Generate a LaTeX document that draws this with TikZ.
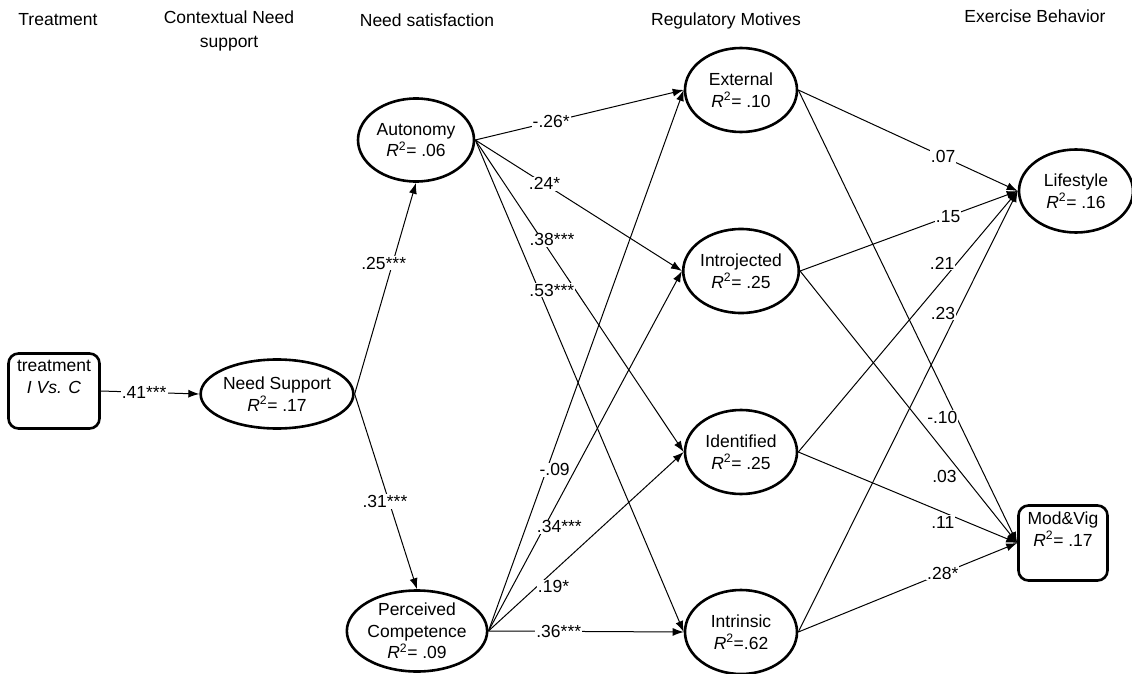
\documentclass[tikz,border=0pt]{standalone}
\usepackage{fontspec}
\setmainfont{Liberation Sans}
\usetikzlibrary{shapes.geometric,arrows.meta}
\begin{document}
\begin{tikzpicture}[x=1pt,y=-1pt,
  every node/.style={font=\fontsize{17.5}{21.5}\selectfont},
  lv/.style={draw, line width=2.6pt, ellipse, inner sep=0pt, align=center},
  obs/.style={draw, line width=2.6pt, rounded corners=10pt, inner sep=0pt, align=center},
  arr/.style={line width=1pt, -{Latex[length=11pt,width=8pt]}},
  coef/.style={fill=white, inner sep=1pt},
  hdr/.style={align=center}]
\useasboundingbox (0,0) rectangle (1132,674);
% headers
\node[hdr] (h1) at (58,20) {Treatment};
\node[hdr] (h2) at (229,31) {Contextual Need\\[2pt]support};
\node[hdr] (h3) at (427,20) {Need satisfaction};
\node[hdr] (h4) at (726,21) {Regulatory Motives};
\node[hdr] (h5) at (1035,16) {Exercise Behavior};
% nodes
\node[obs, minimum width=91, minimum height=75] (tr) at (54,391) {treatment\\\textit{I Vs. C}\\\strut};
\node[lv, minimum width=127, minimum height=69] (ns) at (277,394) {Need Support\\\textit{R}\textsuperscript{2}= .17};
\node[lv, minimum width=116, minimum height=83] (aut) at (416,140) {Autonomy\\\textit{R}\textsuperscript{2}= .06};
\node[lv, minimum width=117, minimum height=81] (comp) at (417,631) {Perceived\\Competence\\\textit{R}\textsuperscript{2}= .09};
\node[lv, minimum width=112, minimum height=84] (ext) at (741,90) {External\\\textit{R}\textsuperscript{2}= .10};
\node[lv, minimum width=112, minimum height=84] (intro) at (741,271) {Introjected\\\textit{R}\textsuperscript{2}= .25};
\node[lv, minimum width=112, minimum height=84] (ident) at (741,452) {Identified\\\textit{R}\textsuperscript{2}= .25};
\node[lv, minimum width=112, minimum height=84] (intr) at (741,632) {Intrinsic\\\textit{R}\textsuperscript{2}=.62};
\node[lv, minimum width=114, minimum height=83] (life) at (1076,191) {Lifestyle\\\textit{R}\textsuperscript{2}= .16};
\node[obs, minimum width=89, minimum height=75] (mv) at (1063,543) {Mod\&Vig\\\textit{R}\textsuperscript{2}= .17\\\strut};
% edges
\draw[arr] (tr.east) -- node[coef,pos=0.44]{.41***} (ns.west);
\draw[arr] (ns.east) -- node[coef,pos=0.62,xshift=-9pt]{.25***} (aut.south);
\draw[arr] (ns.east) -- node[coef,pos=0.55,xshift=-4pt]{.31***} (comp.north);
% autonomy
\draw[arr] (aut.east) -- node[coef,pos=0.364]{-.26*} (ext.west);
\draw[arr] (aut.east) -- node[coef,pos=0.335]{.24*} (intro.west);
\draw[arr] (aut.east) -- node[coef,pos=0.32,xshift=10pt]{.38***} (ident.west);
\draw[arr] (aut.east) -- node[coef,pos=0.305,xshift=13pt]{.53***} (intr.west);
% competence
\draw[arr] (comp.east) -- node[coef,pos=0.298,xshift=8pt]{-.09} (ext.west);
\draw[arr] (comp.east) -- node[coef,pos=0.289,xshift=15pt]{.34***} (intro.west);
\draw[arr] (comp.east) -- node[coef,pos=0.246,xshift=17pt]{.19*} (ident.west);
\draw[arr] (comp.east) -- node[coef,pos=0.36]{.36***} (intr.west);
% motives to behaviour
\draw[arr] (ext.east) -- node[coef,pos=0.66]{.07} (life.west);
\draw[arr] (ext.east) -- node[coef,pos=0.722,xshift=-14pt]{-.10} (mv.west);
\draw[arr] (intro.east) -- node[coef,pos=0.68]{.15} (life.west);
\draw[arr] (intro.east) -- node[coef,pos=0.757,xshift=-20pt]{.03} (mv.west);
\draw[arr] (ident.east) -- node[coef,pos=0.724,xshift=-15pt]{.21} (life.west);
\draw[arr] (ident.east) -- node[coef,pos=0.66,yshift=-10pt]{.11} (mv.west);
\draw[arr] (intr.east) -- node[coef,pos=0.723,xshift=-14pt]{.23} (life.west);
\draw[arr] (intr.east) -- node[coef,pos=0.66]{.28*} (mv.west);
\end{tikzpicture}
\end{document}
